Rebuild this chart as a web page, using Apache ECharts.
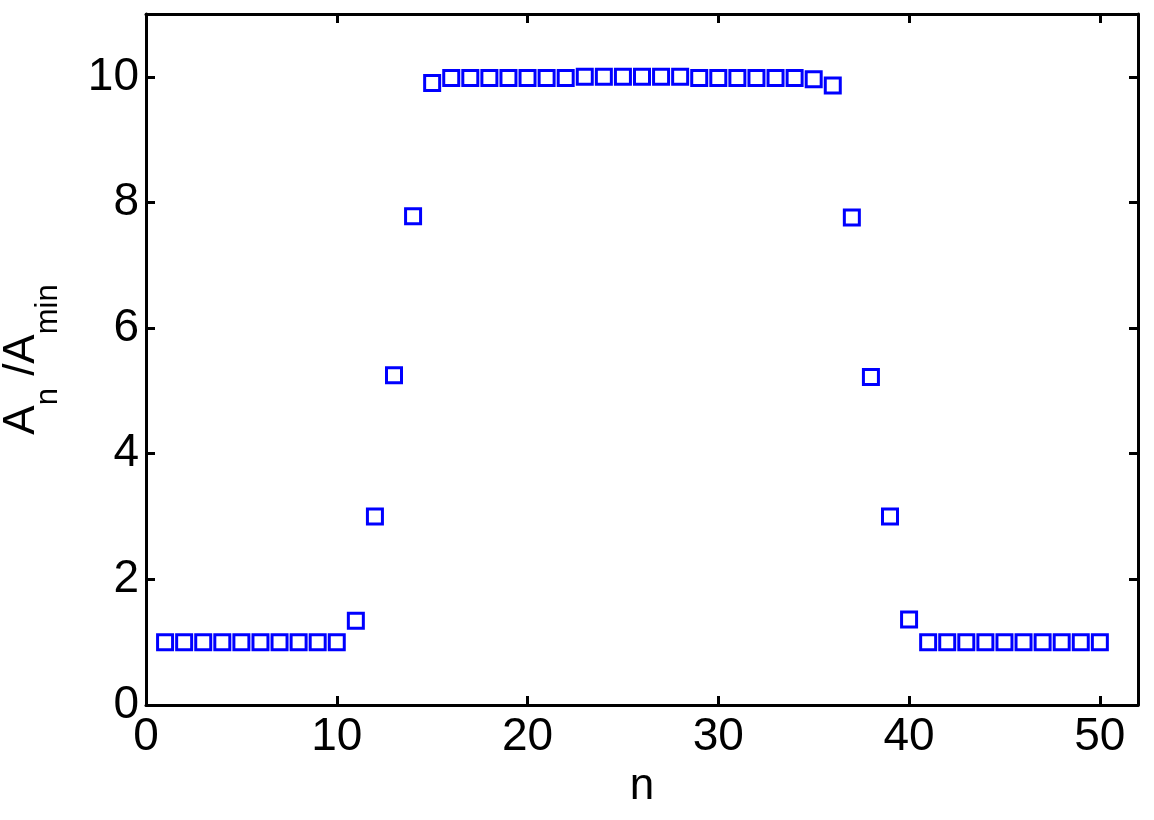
<!DOCTYPE html>
<html>
<head>
<meta charset="utf-8">
<script src="https://cdn.jsdelivr.net/npm/echarts@6/dist/echarts.min.js"></script>
<style>
html,body{margin:0;padding:0;background:#fff;}
#chart{width:1154px;height:820px;}
</style>
</head>
<body>
<div id="chart"></div>
<script>
// Data
const nValues = [1,2,3,4,5,6,7,8,9,10,11,12,13,14,15,16,17,18,19,20,21,22,23,24,25,26,27,28,29,30,31,32,33,34,35,36,37,38,39,40,41,42,43,44,45,46,47,48,49,50];
const ratioValues = [1,1,1,1,1,1,1,1,1,1,1.34,3.0,5.25,7.78,9.90,9.98,9.98,9.98,9.98,9.98,9.98,9.98,10.0,10.0,10.0,10.0,10.0,10.0,9.98,9.98,9.98,9.98,9.98,9.98,9.96,9.86,7.76,5.22,3.0,1.36,1,1,1,1,1,1,1,1,1,1];
const xTicks = [0,10,20,30,40,50];
const yTicks = [0,2,4,6,8,10];

const font = '"Liberation Sans", Arial, sans-serif';
const pts = nValues.map((n, i) => [n, ratioValues[i]]);

const chart = echarts.init(document.getElementById('chart'));
const line = {show:true, onZero:false, lineStyle:{color:'#000', width:3}};
const tick = {show:true, inside:true, length:9, lineStyle:{color:'#000', width:3}};
chart.setOption({
  animation:false,
  backgroundColor:'#fff',
  grid:{left:146, right:16, top:14, bottom:115, outerBoundsMode:'none', containLabel:false},
  xAxis:[{
    type:'value', min:0, max:52, interval:10, position:'bottom',
    axisLine:line, axisTick:tick, splitLine:{show:false},
    axisLabel:{color:'#000', fontFamily:font, fontSize:46, margin:9, customValues:xTicks},
    name:'n', nameLocation:'middle', nameGap:60,
    nameTextStyle:{color:'#000', fontFamily:font, fontSize:44}
  },{
    type:'value', min:0, max:52, interval:10, position:'top',
    axisLine:line, axisTick:tick, axisLabel:{show:false}, splitLine:{show:false}
  }],
  yAxis:[{
    type:'value', min:0, max:11, interval:2, position:'left',
    axisLine:line, axisTick:tick, splitLine:{show:false},
    axisLabel:{color:'#000', fontFamily:font, fontSize:46, margin:7, customValues:yTicks},
    name:'{a|A}{s|n}{a| /A}{s|min}', nameLocation:'middle', nameRotate:90, nameGap:82,
    nameTextStyle:{color:'#000', fontFamily:font,
      rich:{
        a:{fontFamily:font, fontSize:44, color:'#000', lineHeight:64, verticalAlign:'top'},
        s:{fontFamily:font, fontSize:31, color:'#000', lineHeight:31, verticalAlign:'bottom'}
      }}
  },{
    type:'value', min:0, max:11, interval:2, position:'right',
    axisLine:line, axisTick:tick, axisLabel:{show:false}, splitLine:{show:false}
  }],
  series:[{
    type:'scatter', xAxisIndex:0, yAxisIndex:0,
    data:pts,
    symbol:'rect', symbolSize:15,
    itemStyle:{color:'rgba(255,255,255,0)', borderColor:'#0000ff', borderWidth:3, opacity:1},
    emphasis:{disabled:true}
  }]
});
</script>
</body>
</html>
